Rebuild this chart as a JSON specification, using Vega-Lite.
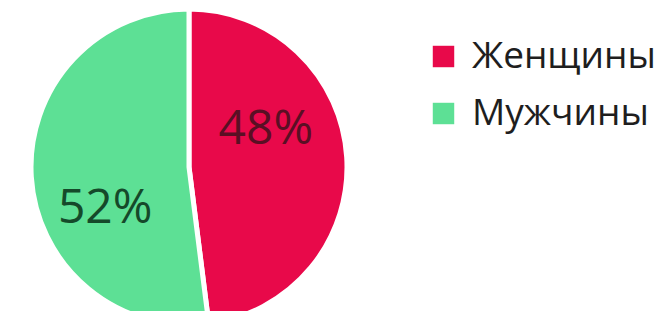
{
  "$schema": "https://vega.github.io/schema/vega-lite/v6.json",
  "width": 378,
  "height": 334,
  "autosize": "none",
  "padding": {"left": 0, "top": 0, "right": 292, "bottom": 0},
  "background": "white",
  "view": {"stroke": null},
  "data": {"values": [
    {"category": "Женщины", "value": 48, "label": "48%", "ord": 1},
    {"category": "Мужчины", "value": 52, "label": "52%", "ord": 2}
  ]},
  "encoding": {
    "theta": {"field": "value", "type": "quantitative", "stack": true},
    "order": {"field": "ord", "type": "quantitative"}
  },
  "layer": [
    {
      "mark": {"type": "arc", "outerRadius": 158, "stroke": "white", "strokeWidth": 5},
      "encoding": {
        "color": {
          "field": "category", "type": "nominal",
          "scale": {"domain": ["Женщины", "Мужчины"], "range": ["#E8094A", "#5DE095"]},
          "legend": {
            "title": null, "orient": "none", "legendX": 425, "legendY": 38,
            "symbolType": "square", "symbolSize": 460, "symbolStrokeWidth": 0,
            "labelFont": "Open Sans", "labelFontSize": 37, "labelFontWeight": 500, "labelColor": "#1e1e1e",
            "labelOffset": 10, "rowPadding": 19, "labelLimit": 300
          }
        }
      }
    },
    {
      "mark": {"type": "text", "radius": 80, "dx": -3, "dy": -32, "font": "Open Sans", "fontSize": 48, "color": "#5a0f24"},
      "encoding": {
        "text": {"condition": {"test": "datum.category === 'Женщины'", "field": "label"}, "value": ""}
      }
    },
    {
      "mark": {"type": "text", "radius": 90, "dx": 6, "dy": 36, "font": "Open Sans", "fontSize": 48, "color": "#15492a"},
      "encoding": {
        "text": {"condition": {"test": "datum.category === 'Мужчины'", "field": "label"}, "value": ""}
      }
    }
  ]
}
